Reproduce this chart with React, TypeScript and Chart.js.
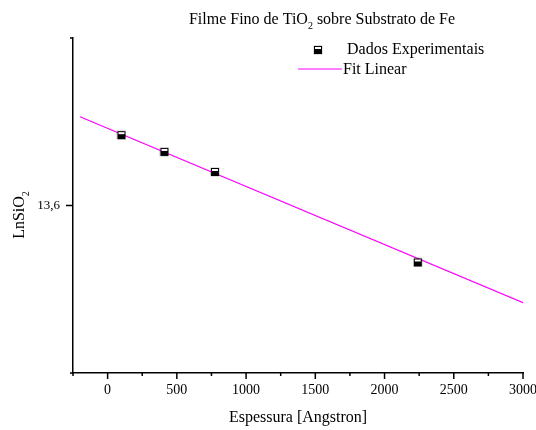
import React, { useEffect, useRef } from 'react';
import { Chart, registerables } from 'chart.js';

Chart.register(...registerables);

// Measured film thickness (Å) and ln of the SiO2 signal
const thickness = [100, 410, 775, 2240];
const lnSiO2 = [13.642, 13.632, 13.62, 13.566];

// Linear fit, given by its two end points
const fitThickness = [-200, 3000];
const fitLnSiO2 = [13.653, 13.542];

// Axis ticks
const xMajorTicks = [0, 500, 1000, 1500, 2000, 2500, 3000];
const xMinorTicks = [-250, 250, 750, 1250, 1750, 2250, 2750];
const yMajorTicks = [13.6];
const yMinorTicks = [13.5, 13.7];
const yTickLabels = ['13,6'];

const SERIF = '"Liberation Serif", "Times New Roman", serif';

// Half-filled square marker
function makeMarker(): HTMLCanvasElement {
  const c = document.createElement('canvas');
  c.width = 10;
  c.height = 10;
  const g = c.getContext('2d')!;
  g.fillStyle = 'rgba(0,0,0,0.25)';
  g.fillRect(0.5, 0.5, 9, 9);
  g.fillStyle = '#fff';
  g.fillRect(1, 1, 8, 8);
  g.fillStyle = '#000';
  g.fillRect(1, 4, 8, 5);
  g.strokeStyle = '#000';
  g.lineWidth = 1;
  g.strokeRect(1.5, 1.5, 7, 7);
  return c;
}

type Part = [string, boolean];

function partsWidth(ctx: CanvasRenderingContext2D, parts: Part[], size: number) {
  let w = 0;
  for (const [t, sub] of parts) {
    ctx.font = `${sub ? Math.round(size * 0.62) : size}px ${SERIF}`;
    w += ctx.measureText(t).width;
  }
  return w;
}

// Draws text where some parts are subscripts; (x, y) is the baseline start
function drawParts(ctx: CanvasRenderingContext2D, parts: Part[], x: number, y: number, size: number) {
  let cx = x;
  ctx.textAlign = 'left';
  ctx.textBaseline = 'alphabetic';
  for (const [t, sub] of parts) {
    ctx.font = `${sub ? Math.round(size * 0.62) : size}px ${SERIF}`;
    ctx.fillText(t, cx, sub ? y + size * 0.3 : y);
    cx += ctx.measureText(t).width;
  }
}

export default function App() {
  const canvasRef = useRef<HTMLCanvasElement | null>(null);

  useEffect(() => {
    const canvas = canvasRef.current;
    if (!canvas) return;
    const marker = makeMarker();

    const decorations = {
      id: 'decorations',
      afterDraw(chart: any) {
        const ctx: CanvasRenderingContext2D = chart.ctx;
        const xs = chart.scales.x;
        const ys = chart.scales.y;
        const area = chart.chartArea;
        ctx.save();
        ctx.strokeStyle = '#000';
        ctx.lineWidth = 1.5;

        // x ticks (outside, below axis)
        const xTick = (v: number, len: number) => {
          const px = xs.getPixelForValue(v);
          ctx.beginPath();
          ctx.moveTo(px, area.bottom);
          ctx.lineTo(px, area.bottom + len);
          ctx.stroke();
        };
        xMajorTicks.forEach((v) => xTick(v, 6));
        xMinorTicks.forEach((v) => xTick(v, 3));

        // y ticks (outside, left of axis)
        const yTick = (v: number, len: number) => {
          const py = ys.getPixelForValue(v);
          ctx.beginPath();
          ctx.moveTo(area.left, py);
          ctx.lineTo(area.left - len, py);
          ctx.stroke();
        };
        yMajorTicks.forEach((v) => yTick(v, 7));
        yMinorTicks.forEach((v) => yTick(v, 3));

        ctx.fillStyle = '#000';

        // Title
        const titleParts: Part[] = [
          ['Filme Fino de TiO', false],
          ['2', true],
          [' sobre Substrato de Fe', false],
        ];
        const tw = partsWidth(ctx, titleParts, 16);
        drawParts(ctx, titleParts, 322 - tw / 2, 24, 16);

        // x-axis title
        ctx.font = `16px ${SERIF}`;
        ctx.textAlign = 'center';
        ctx.textBaseline = 'alphabetic';
        ctx.fillText('Espessura [Angstron]', 298, 422);

        // y-axis title (rotated)
        const yParts: Part[] = [
          ['LnSiO', false],
          ['2', true],
        ];
        const yw = partsWidth(ctx, yParts, 16);
        ctx.save();
        ctx.translate(24, 215);
        ctx.rotate(-Math.PI / 2);
        drawParts(ctx, yParts, -yw / 2, 0, 16);
        ctx.restore();

        // Legend
        ctx.drawImage(marker, 318 - 5, 50 - 5);
        ctx.font = `16px ${SERIF}`;
        ctx.textAlign = 'left';
        ctx.fillText('Dados Experimentais', 347, 54);
        ctx.strokeStyle = '#ff00ff';
        ctx.lineWidth = 1.2;
        ctx.beginPath();
        ctx.moveTo(298, 69);
        ctx.lineTo(342, 69);
        ctx.stroke();
        ctx.fillText('Fit Linear', 343, 74);

        ctx.restore();
      },
    };

    const chart = new Chart(canvas, {
      type: 'scatter',
      data: {
        datasets: [
          {
            label: 'Fit Linear',
            type: 'line',
            data: fitThickness.map((x, i) => ({ x, y: fitLnSiO2[i] })),
            borderColor: '#ff00ff',
            borderWidth: 1.2,
            pointRadius: 0,
            fill: false,
            order: 2,
          },
          {
            label: 'Dados Experimentais',
            data: thickness.map((x, i) => ({ x, y: lnSiO2[i] })),
            pointStyle: marker,
            pointRadius: 5,
            order: 1,
          },
        ],
      },
      options: {
        animation: false,
        responsive: false,
        layout: { padding: { top: 38, right: 13, left: 0, bottom: 0 } },
        plugins: {
          legend: { display: false },
          title: { display: false },
          tooltip: { enabled: false },
        },
        scales: {
          x: {
            type: 'linear',
            min: -250,
            max: 3000,
            grid: { display: true, drawOnChartArea: false, drawTicks: false, tickLength: 0 },
            border: { display: true, color: '#000', width: 1.5 },
            ticks: {
              stepSize: 250,
              maxRotation: 0,
              autoSkip: false,
              padding: 9,
              color: '#000',
              font: { family: SERIF, size: 14 },
              callback: (v: any) => (xMajorTicks.includes(Number(v)) ? String(v) : ''),
            },
            afterFit: (s: any) => {
              s.height = 57;
              s.paddingLeft = 0;
              s.paddingRight = 0;
            },
          },
          y: {
            type: 'linear',
            min: yMinorTicks[0],
            max: yMinorTicks[1],
            grid: { display: true, drawOnChartArea: false, drawTicks: false, tickLength: 0 },
            border: { display: true, color: '#000', width: 1.5 },
            ticks: {
              stepSize: 0.1,
              padding: 13,
              color: '#000',
              font: { family: SERIF, size: 13 },
              callback: (v: any) => {
                const i = yMajorTicks.findIndex((t) => Math.abs(t - Number(v)) < 1e-6);
                return i >= 0 ? yTickLabels[i] : '';
              },
            },
            afterFit: (s: any) => {
              s.width = 73;
              s.paddingTop = 0;
              s.paddingBottom = 0;
            },
          },
        },
      },
      plugins: [decorations],
    } as any);

    return () => chart.destroy();
  }, []);

  return (
    <div style={{ position: 'fixed', left: 0, top: 0, width: 536, height: 430, background: '#fff' }}>
      <canvas ref={canvasRef} width={536} height={430} style={{ display: 'block' }} />
    </div>
  );
}
